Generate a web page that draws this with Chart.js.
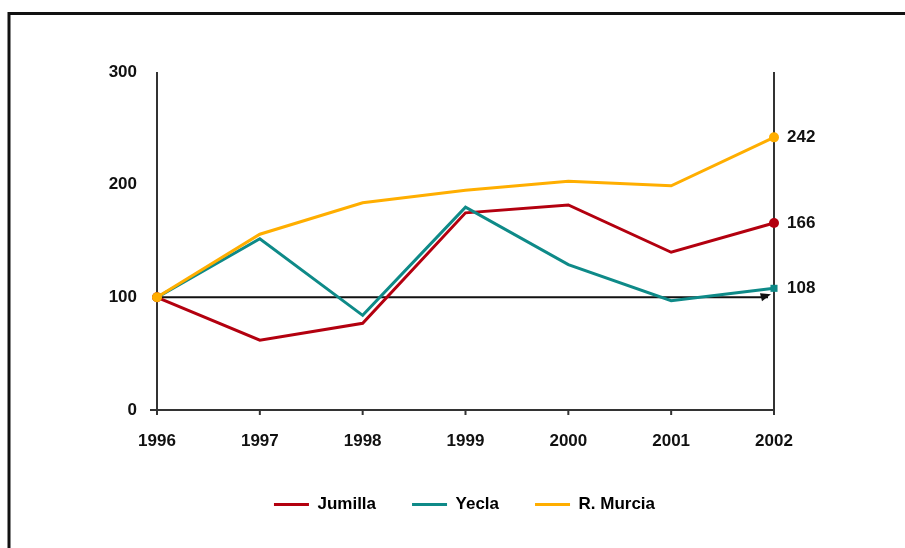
<!DOCTYPE html>
<html>
<head>
<meta charset="utf-8">
<script src="https://cdn.jsdelivr.net/npm/chart.js@4"></script>
<style>
  html, body { margin: 0; padding: 0; background: #fff; }
  canvas { display: block; }
</style>
</head>
<body>
<canvas id="chart" width="905" height="548"></canvas>
<script>
const years = ['1996', '1997', '1998', '1999', '2000', '2001', '2002'];
const jumilla = [100, 62, 77, 175, 182, 140, 166];
const yecla = [100, 152, 84, 180, 129, 97, 108];
const murcia = [100, 156, 184, 195, 203, 199, 242];
const yTicks = [0, 100, 200, 300];
const baseline = 100;

const FONT = 'Liberation Sans, Arial, sans-serif';
const endRadius = [5, 0, 0, 0, 0, 0, 5];

// frame, axes, baseline arrow and end values
const decorPlugin = {
    id: 'decor',
    beforeDraw(chart) {
        const ctx = chart.ctx;
        ctx.save();
        ctx.fillStyle = '#fff';
        ctx.fillRect(0, 0, chart.width, chart.height);
        ctx.strokeStyle = '#111';
        ctx.lineWidth = 3;
        ctx.beginPath();
        ctx.moveTo(9, 548);
        ctx.lineTo(9, 13.5);
        ctx.lineTo(905, 13.5);
        ctx.stroke();
        ctx.restore();
    },
    beforeDatasetsDraw(chart) {
        const ctx = chart.ctx;
        const x = chart.scales.x, y = chart.scales.y;
        const left = x.getPixelForValue(0);
        const right = x.getPixelForValue(years.length - 1);
        const top = y.getPixelForValue(300);
        const bottom = y.getPixelForValue(0);
        ctx.save();
        ctx.strokeStyle = '#333';
        ctx.lineWidth = 2;
        ctx.beginPath();
        ctx.moveTo(left, top);
        ctx.lineTo(left, bottom + 4);
        ctx.moveTo(left - 7, bottom);
        ctx.lineTo(right, bottom);
        ctx.moveTo(right, top);
        ctx.lineTo(right, bottom);
        years.forEach((yr, i) => {
            const px = x.getPixelForValue(i);
            ctx.moveTo(px, bottom);
            ctx.lineTo(px, bottom + 5);
        });
        ctx.stroke();
        // baseline arrow at 100
        const by = y.getPixelForValue(baseline);
        ctx.strokeStyle = '#111';
        ctx.beginPath();
        ctx.moveTo(left, by);
        ctx.lineTo(right - 6, by);
        ctx.stroke();
        ctx.fillStyle = '#111';
        ctx.beginPath();
        ctx.moveTo(right - 3, by - 3);
        ctx.lineTo(right - 14, by - 4);
        ctx.lineTo(right - 12, by + 4);
        ctx.closePath();
        ctx.fill();
        ctx.restore();
    },
    afterDatasetsDraw(chart) {
        const ctx = chart.ctx;
        ctx.save();
        ctx.font = 'bold 17px ' + FONT;
        ctx.fillStyle = '#111';
        ctx.textAlign = 'left';
        ctx.textBaseline = 'middle';
        chart.data.datasets.forEach((ds, i) => {
            const meta = chart.getDatasetMeta(i);
            const last = meta.data[meta.data.length - 1];
            const v = ds.data[ds.data.length - 1];
            ctx.fillText(String(v), last.x + 13, last.y);
        });
        ctx.restore();
    }
};

new Chart(document.getElementById('chart'), {
    type: 'line',
    data: {
        labels: years,
        datasets: [
            {
                label: 'Jumilla', data: jumilla, order: 3,
                borderColor: '#B3000F', backgroundColor: '#B3000F',
                borderWidth: 3, pointRadius: endRadius, pointBorderWidth: 0,
                pointStyle: 'circle', tension: 0
            },
            {
                label: 'Yecla', data: yecla, order: 2,
                borderColor: '#0E8A88', backgroundColor: '#0E8A88',
                borderWidth: 3, pointRadius: endRadius, pointBorderWidth: 0,
                pointStyle: 'rect', tension: 0
            },
            {
                label: 'R. Murcia', data: murcia, order: 1,
                borderColor: '#FFAE00', backgroundColor: '#FFAE00',
                borderWidth: 3, pointRadius: endRadius, pointBorderWidth: 0,
                pointStyle: 'circle', tension: 0
            }
        ]
    },
    options: {
        responsive: false,
        animation: false,
        devicePixelRatio: 1,
        layout: { padding: { left: 24, right: 0, top: 72, bottom: 25 } },
        scales: {
            x: {
                offset: false,
                grid: { display: false, drawTicks: false },
                border: { display: false },
                ticks: {
                    color: '#111', padding: 21, maxRotation: 0, autoSkip: false,
                    font: { family: FONT, size: 17, weight: 'bold' }
                },
                afterFit(scale) { scale.height = 50; }
            },
            y: {
                min: 0, max: 300,
                grid: { display: false, drawTicks: false },
                border: { display: false },
                afterBuildTicks(scale) { scale.ticks = yTicks.map(v => ({ value: v })); },
                ticks: {
                    color: '#111', padding: 20,
                    font: { family: FONT, size: 17, weight: 'bold' }
                },
                afterFit(scale) { scale.width = 133; }
            },
            // empty right axis keeps room for the end values
            yRight: {
                type: 'linear', position: 'right', display: true,
                min: 0, max: 300,
                grid: { display: false, drawTicks: false },
                border: { display: false },
                ticks: { display: false },
                afterFit(scale) { scale.width = 131; }
            }
        },
        plugins: {
            legend: {
                position: 'bottom',
                labels: {
                    boxWidth: 35, boxHeight: 3, padding: 36, color: '#111',
                    font: { family: FONT, size: 17, weight: 'bold' },
                    generateLabels(chart) {
                        return chart.data.datasets.map((ds, i) => ({
                            text: ds.label, fillStyle: ds.borderColor, strokeStyle: ds.borderColor,
                            lineWidth: 0, datasetIndex: i, hidden: false
                        }));
                    }
                }
            },
            tooltip: { enabled: false },
            title: { display: false }
        }
    },
    plugins: [decorPlugin]
});
</script>
</body>
</html>
